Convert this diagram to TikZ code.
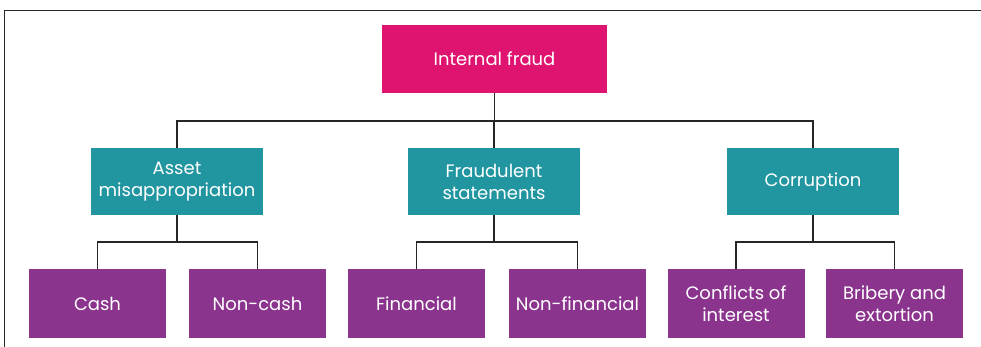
\documentclass[tikz,border=0pt]{standalone}
\usepackage{fontspec}
\setmainfont{Poppins}
\definecolor{fraudpink}{HTML}{DF1370}
\definecolor{fraudteal}{HTML}{2196A1}
\definecolor{fraudpurple}{HTML}{8B348E}

\begin{document}
\begin{tikzpicture}[x=1pt, y=-1pt,
    box/.style={inner sep=0pt, align=center, text=white, font=\fontsize{18}{22}\selectfont},
    topbox/.style={box, fill=fraudpink, minimum width=225pt, minimum height=68pt},
    midbox/.style={box, fill=fraudteal, minimum width=172pt, minimum height=67pt},
    leafbox/.style={box, fill=fraudpurple, minimum width=137pt, minimum height=69pt},
    link/.style={black!85, line width=1.1pt}]
  \useasboundingbox (0,0) rectangle (981,347);
  % frame
  \draw[black!85, line width=1.5pt] (4.5,347) -- (4.5,10.5) -- (981,10.5);

  \node[topbox] (fraud) at (494.5,59) {Internal fraud};

  \node[midbox] (asset) at (177,181.5) {Asset\\misappropriation};
  \node[midbox] (stmt) at (494,181.5) {Fraudulent\\statements};
  \node[midbox] (corr) at (813,181.5) {Corruption};

  \node[leafbox] (cash) at (97.5,303.5) {Cash};
  \node[leafbox] (noncash) at (257.5,303.5) {Non-cash};
  \node[leafbox] (fin) at (416.5,303.5) {Financial};
  \node[leafbox] (nonfin) at (577.5,303.5) {Non-financial};
  \node[leafbox] (coi) at (736,303.5) {Conflicts of\\interest};
  \node[leafbox] (bribe) at (894.5,303.5) {Bribery and\\extortion};

  % connectors
  \draw[link] (fraud.south) -- (fraud.south |- 0,121);
  \foreach \c in {asset,stmt,corr}
    \draw[link] (fraud.south |- 0,121) -| (\c.north);
  \foreach \p/\a/\b in {asset/cash/noncash, stmt/fin/nonfin, corr/coi/bribe} {
    \draw[link] (\p.south) -- (\p.south |- 0,242);
    \draw[link] (\a.north) |- (\p.south |- 0,242) -| (\b.north);
  }
\end{tikzpicture}
\end{document}
